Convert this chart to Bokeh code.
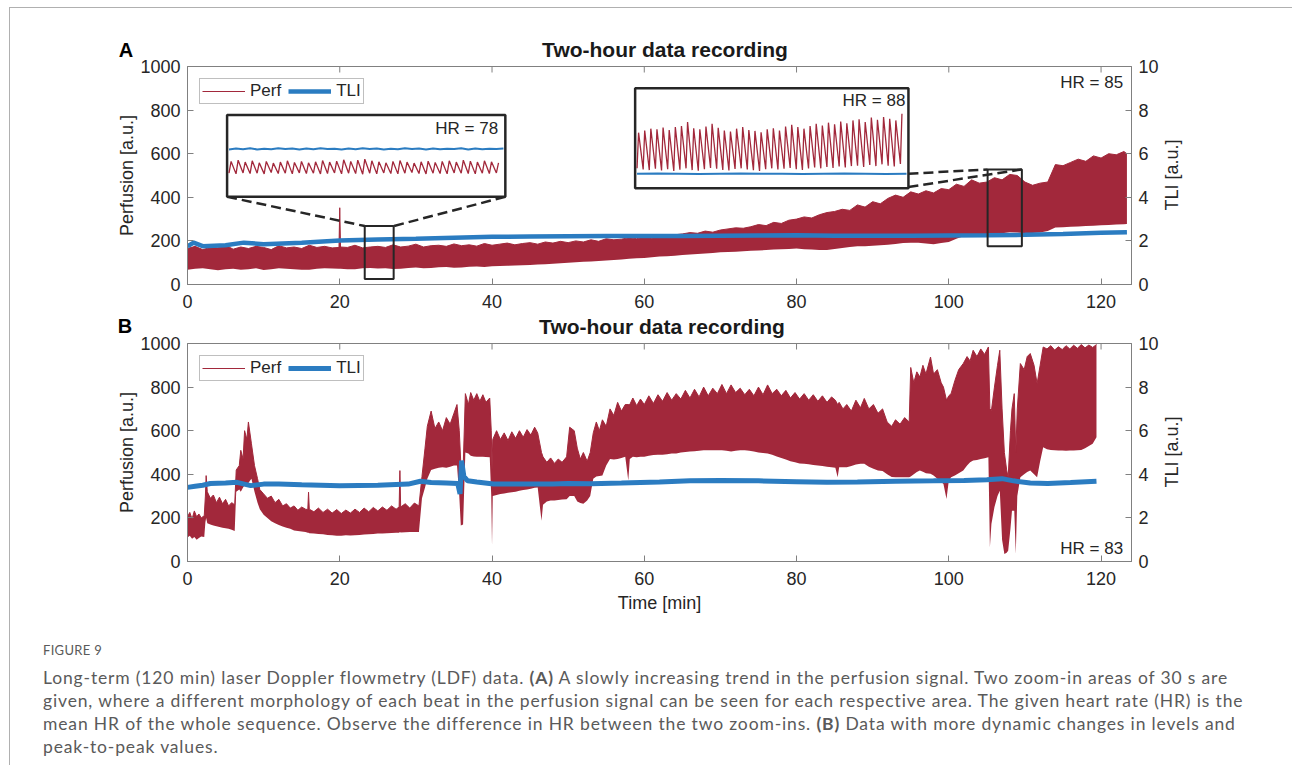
import math
from bokeh.plotting import figure
from bokeh.models import Range1d, LinearAxis, Label, Legend, LegendItem, Div, FixedTicker
from bokeh.layouts import column
from bokeh.embed import file_html
from bokeh.resources import INLINE

# ---------------- data ----------------
X_TICKS = [0, 20, 40, 60, 80, 100, 120]
Y_TICKS = [0, 200, 400, 600, 800, 1000]
TLI_TICKS = [0, 2, 4, 6, 8, 10]

# Panel A: perfusion envelope (time in min)
tA = [0, 1, 2, 3, 4, 5, 6, 7, 8, 9, 10, 11, 12, 13, 14, 15, 16, 17, 18, 19, 19.9, 20.0, 20.1,
      21, 22, 23, 24, 25, 26, 27, 28, 29, 30, 31, 32, 33, 34, 35, 36, 37, 38, 39, 40,
      41, 42, 43, 44, 45, 46, 47, 48, 49, 50, 51, 52, 53, 54, 55, 56, 57, 58, 59, 60,
      61, 62, 63, 64, 65, 66, 67, 68, 69, 70, 71, 72, 73, 74, 75, 76, 77, 78, 79, 80,
      81, 82, 83, 84, 85, 86, 87, 88, 89, 90, 91, 92, 93, 94, 95, 96, 97, 98, 99, 100,
      101, 102, 103, 104, 105, 106, 107, 108, 109, 110, 111, 112, 113, 114, 115, 116, 117, 118, 119, 120,
      121, 122, 123, 123.4]
perfA_hi = [165, 175, 160, 170, 168, 180, 162, 172, 165, 175, 170, 160, 178, 168, 172, 165, 180, 170, 175, 168, 170, 352, 172,
            170, 180, 168, 172, 175, 170, 182, 172, 176, 185, 172, 178, 180, 175, 186, 178, 182, 176, 188, 180,
            185, 190, 182, 188, 192, 185, 195, 190, 198, 192, 200, 195, 205, 198, 210, 205, 208, 215, 210, 218,
            212, 225, 220, 228, 232, 238, 235, 245, 240, 250, 255, 260, 258, 265, 275, 270, 285, 280, 295, 300,
            310, 305, 320, 330, 335, 345, 340, 365, 355, 380, 370, 395, 410, 400, 425, 415, 430, 420, 440, 435,
            460, 450, 480, 465, 470, 490, 480, 505, 500, 470, 455, 465, 470, 550, 545, 560, 575, 565, 590, 580,
            600, 595, 610, 600]
perfA_lo = [68, 72, 75, 70, 65, 70, 72, 68, 70, 74, 66, 70, 74, 72, 70, 68, 68, 72, 75, 73, 72, 72, 72,
            70, 70, 74, 76, 73, 74, 71, 72, 76, 78, 75, 76, 79, 80, 77, 78, 81, 82, 80, 84,
            85, 86, 87, 88, 90, 92, 93, 95, 98, 100, 102, 104, 106, 108, 110, 112, 115, 118, 120, 122,
            125, 128, 130, 132, 135, 138, 140, 142, 145, 148, 149, 150, 153, 155, 156, 158, 160, 162, 163, 165,
            162, 160, 158, 158, 163, 168, 172, 175, 176, 178, 180, 182, 186, 190, 191, 192, 188, 185, 190, 195,
            210, 222, 224, 225, 228, 230, 235, 240, 238, 235, 236, 238, 245, 262, 263, 265, 266, 268, 270, 272,
            273, 275, 276, 277]

# Panel A: TLI
tA_tli = [0, 0.8, 2, 5, 7.4, 10, 15, 20, 25, 30, 35, 40, 45, 50, 55, 60, 65, 70, 75, 80, 85, 90, 95, 100, 105, 110, 115, 120, 123.4]
tliA = [1.75, 1.92, 1.76, 1.80, 1.92, 1.85, 1.92, 2.02, 2.06, 2.10, 2.15, 2.19, 2.20, 2.21, 2.22, 2.22, 2.23, 2.24, 2.25, 2.26,
        2.24, 2.24, 2.24, 2.25, 2.26, 2.28, 2.32, 2.37, 2.40]

# Panel B: perfusion envelope
tB = [0.0, 0.3, 0.6, 0.9, 1.2, 1.5, 1.8, 2.2, 2.35, 2.45, 2.6, 3.0, 3.4, 3.8, 4.2, 4.6, 5.0, 5.4, 5.8, 6.2,
      6.4, 6.8, 7.0, 7.3, 7.5, 7.8, 8.0, 8.2, 8.4, 8.8, 9.2, 9.5, 10.0, 10.5, 11.0, 11.5, 12.0, 12.5, 13.0, 13.5,
      14.0, 14.5, 15.0, 15.5, 15.8, 15.9, 16.0, 16.6, 17.2, 17.8, 18.4, 19.0, 19.6, 20.2, 20.8, 21.4, 22.0, 22.6, 23.2, 23.8,
      24.4, 25.0, 25.6, 26.2, 26.8, 27.4, 27.8, 27.9, 28.0, 28.6, 29.2, 29.8, 30.4, 30.8, 31.2, 31.5, 32.0, 32.5, 33.0, 33.5,
      34.0, 34.5, 35.0, 35.4, 35.7, 35.9, 36.2, 36.5, 36.9, 37.2, 37.6, 38.0, 38.4, 38.8, 39.2, 39.7, 39.9, 40.0, 40.1, 40.6,
      41.1, 41.6, 42.1, 42.6, 43.1, 43.6, 44.1, 44.6, 45.1, 45.6, 46.0, 46.5, 46.7, 47.2, 47.7, 48.2, 48.7, 49.2, 49.8, 50.2,
      50.8, 51.2, 51.6, 52.0, 52.5, 52.9, 53.3, 53.7, 54.1, 54.5, 55.0, 55.5, 56.0, 56.5, 57.0, 57.5, 57.9, 58.1, 58.5, 59.0,
      59.5, 60.0, 60.6, 61.2, 61.8, 62.4, 63.0, 63.6, 64.2, 64.8, 65.4, 66.0, 66.6, 67.2, 67.8, 68.4, 69.0, 69.6, 70.2, 70.8,
      71.4, 72.0, 72.6, 73.2, 73.8, 74.4, 75.0, 75.6, 76.2, 76.8, 77.4, 78.0, 78.6, 79.2, 79.8, 80.4, 81.0, 81.6, 82.2, 82.8,
      83.4, 84.0, 84.6, 85.1, 85.4, 85.6, 86.1, 86.6, 87.2, 87.8, 88.4, 88.9, 89.5, 90.1, 90.7, 91.3, 91.9, 92.5, 93.0, 93.6,
      94.2, 94.8, 95.0, 95.4, 95.8, 96.2, 96.6, 97.0, 97.6, 98.0, 98.5, 99.0, 99.3, 99.7, 100.0, 100.3, 100.8, 101.3, 101.9, 102.4,
      102.8, 103.2, 103.7, 104.2, 104.7, 105.2, 105.4, 105.6, 106.0, 106.4, 106.7, 107.0, 107.3, 107.6, 107.8, 108.1, 108.3, 108.6, 108.8, 109.0,
      109.4, 109.9, 110.3, 110.7, 111.2, 111.6, 112.0, 112.4, 112.9, 113.4, 113.9, 114.4, 114.9, 115.4, 115.9, 116.4, 116.9, 117.4, 117.9, 118.4,
      118.9, 119.4]
perfB_hi = [205, 225, 195, 232, 205, 218, 200, 210, 300, 394, 320, 290, 305, 270, 295, 265, 285, 255, 270, 260,
            420, 440, 510, 470, 600, 560, 640, 590, 540, 440, 380, 330, 310, 290, 300, 270, 285, 255, 265, 245,
            255, 235, 250, 240, 238, 318, 240, 228, 245, 225, 240, 222, 238, 220, 236, 222, 240, 225, 245, 228,
            248, 232, 250, 235, 255, 240, 250, 417, 250, 265, 245, 268, 255, 390, 520, 620, 690, 610, 640, 600,
            660, 630, 680, 720, 600, 450, 420, 770, 720, 775, 740, 770, 735, 765, 730, 750, 600, 420, 560, 600,
            560, 590, 555, 595, 565, 600, 570, 605, 580, 616, 590, 500, 480, 455, 475, 450, 470, 455, 480, 616,
            600, 520, 470, 500, 460, 500, 590, 640, 600, 650, 620, 700, 670, 730, 690, 720, 720, 720, 750, 715,
            745, 720, 760, 725, 765, 735, 775, 740, 770, 745, 785, 750, 790, 755, 800, 760, 795, 770, 812, 770,
            810, 775, 795, 765, 790, 760, 800, 765, 810, 770, 790, 760, 785, 750, 775, 745, 770, 740, 765, 735,
            760, 730, 755, 740, 720, 730, 700, 720, 690, 740, 705, 748, 700, 720, 680, 700, 640, 620, 650, 630,
            660, 640, 890, 820, 870, 846, 900, 860, 938, 860, 880, 820, 800, 740, 760, 770, 830, 880, 908, 940,
            920, 969, 940, 975, 950, 984, 700, 693, 800, 900, 969, 700, 500, 420, 386, 600, 700, 770, 500, 700,
            908, 880, 940, 954, 900, 816, 900, 984, 975, 990, 970, 985, 972, 990, 975, 992, 978, 995, 980, 993,
            982, 995]
perfB_lo = [110, 118, 104, 112, 100, 108, 115, 112, 180, 200, 175, 170, 165, 162, 158, 155, 152, 150, 146, 140,
            320, 330, 320, 340, 350, 345, 360, 370, 380, 320, 270, 240, 215, 200, 185, 175, 168, 160, 155, 150,
            142, 140, 138, 135, 132, 132, 130, 128, 126, 125, 122, 120, 118, 118, 120, 119, 120, 122, 124, 125,
            126, 128, 129, 130, 131, 132, 132, 135, 133, 134, 135, 135, 135, 290, 340, 380, 420, 425, 430, 432,
            430, 435, 440, 440, 300, 165, 170, 500, 495, 485, 482, 480, 480, 480, 479, 478, 300, 72, 300, 305,
            310, 312, 315, 318, 320, 325, 328, 330, 334, 338, 340, 187, 260, 275, 280, 280, 282, 284, 285, 300,
            300, 275, 268, 265, 280, 300, 380, 390, 392, 395, 440, 470, 468, 470, 475, 480, 371, 470, 480, 478,
            480, 480, 485, 488, 490, 490, 492, 495, 495, 500, 502, 505, 506, 508, 510, 510, 510, 510, 510, 508,
            505, 508, 510, 510, 508, 505, 500, 498, 495, 490, 482, 475, 468, 460, 455, 450, 448, 446, 443, 440,
            438, 435, 432, 430, 386, 432, 432, 432, 438, 445, 448, 448, 435, 425, 418, 415, 400, 388, 386, 386,
            386, 386, 390, 400, 410, 417, 412, 405, 402, 395, 380, 365, 356, 287, 370, 386, 395, 405, 417, 440,
            455, 463, 466, 470, 474, 478, 65, 172, 250, 300, 325, 100, 34, 40, 49, 150, 233, 233, 34, 300,
            386, 400, 410, 417, 400, 386, 460, 524, 515, 512, 510, 509, 509, 508, 509, 509, 510, 512, 520, 530,
            540, 570]

# Panel B: TLI
tB_tli = [0, 1, 2, 3, 5, 6.5, 8.3, 10, 12, 15, 20, 25, 29, 30.6, 32, 34, 35.5, 35.8, 36.0, 36.3, 36.8, 38, 40.2, 42, 45,
          48, 50, 53, 57, 62, 66, 70, 75, 80, 84, 88, 93, 98, 102, 105, 107, 108.5, 110.7, 113, 116, 119.4]
tliB = [3.40, 3.45, 3.50, 3.58, 3.60, 3.63, 3.48, 3.55, 3.56, 3.52, 3.48, 3.50, 3.55, 3.68, 3.62, 3.60, 3.58, 3.10, 4.63,
        3.90, 3.70, 3.65, 3.56, 3.55, 3.56, 3.55, 3.58, 3.57, 3.60, 3.65, 3.70, 3.72, 3.70, 3.66, 3.63, 3.65, 3.68, 3.70,
        3.72, 3.75, 3.80, 3.70, 3.60, 3.58, 3.62, 3.68]

# Zoom-in 1 (HR = 78): beat peaks / troughs of perfusion, TLI samples
z1_peaks = [108, 112, 106, 110, 104, 108, 103, 106, 110, 105, 108, 104, 107, 111, 106, 109, 113, 108, 112, 115,
            110, 107, 104, 108, 111, 106, 103, 107, 109, 105, 108, 110, 106, 112, 109, 106, 110, 107, 104]
z1_troughs = [72, 70, 73, 71, 72, 70, 74, 71, 72, 70, 73, 71, 72, 70, 71, 73, 70, 72, 71, 69,
              72, 70, 73, 71, 70, 72, 74, 71, 70, 72, 71, 70, 73, 72, 71, 70, 72, 71, 73]
z1_tli = [2.03, 2.07, 2.04, 2.08, 2.03, 2.06, 2.04, 2.08, 2.05, 2.07, 2.03, 2.07, 2.04, 2.08, 2.05, 2.06, 2.03, 2.07,
          2.04, 2.08, 2.05, 2.07, 2.03, 2.06, 2.04, 2.08, 2.05, 2.07, 2.03, 2.07, 2.04, 2.06, 2.05, 2.08, 2.03, 2.07,
          2.04, 2.06, 2.05, 2.07]

# Zoom-in 2 (HR = 88)
z2_peaks = [400, 410, 418, 415, 423, 412, 425, 430, 448, 420, 415, 428, 440, 422, 410, 405, 418, 425, 412, 408, 402, 415,
            420, 410, 428, 435, 425, 418, 430, 440, 432, 445, 438, 450, 442, 455, 460, 448, 468, 458, 470, 462, 455, 485]
z2_troughs = [240, 235, 232, 238, 230, 236, 228, 234, 240, 232, 229, 236, 242, 238, 233, 230, 237, 240, 235, 232, 228, 236,
              240, 235, 238, 242, 236, 233, 239, 244, 240, 246, 242, 248, 244, 250, 252, 246, 255, 250, 258, 252, 248, 260]
z2_tli = [2.27, 2.28, 2.27, 2.26, 2.27, 2.28, 2.27, 2.27, 2.26, 2.27, 2.28, 2.27, 2.26, 2.27]

TITLE = "Two-hour data recording"
RIGHT_LABEL = "TLI [a.u.]"
CAPTION_HEAD = "FIGURE 9"
CAPTION_LINES = [
    "Long-term (120 min) laser Doppler flowmetry (LDF) data. <b>(A)</b> A slowly increasing trend in the perfusion signal. Two zoom-in areas of 30 s are",
    "given, where a different morphology of each beat in the perfusion signal can be seen for each respective area. The given heart rate (HR) is the",
    "mean HR of the whole sequence. Observe the difference in HR between the two zoom-ins. <b>(B)</b> Data with more dynamic changes in levels and",
    "peak-to-peak values.",
]

# ---------------- style ----------------
RED = "#A2283B"
BLUE = "#2B7CC1"
FONT = "Liberation Sans"
TXT = "#262626"
AX = "#808080"
DARK = "#262626"
XMAX = 124.0
W = 1269


def style_axis(ax, ticks, standoff=7):
    ax.ticker = FixedTicker(ticks=ticks)
    ax.major_tick_in = 6
    ax.major_tick_out = 0
    ax.minor_tick_in = 0
    ax.minor_tick_out = 0
    ax.axis_line_color = AX
    ax.major_tick_line_color = AX
    ax.major_label_standoff = standoff
    ax.major_label_text_font = FONT
    ax.major_label_text_font_size = "18px"
    ax.major_label_text_color = TXT
    ax.axis_label_text_font = FONT
    ax.axis_label_text_font_size = "18px"
    ax.axis_label_text_font_style = "normal"
    ax.axis_label_text_color = TXT


def make_panel(h, top, bottom, xlabel):
    p = figure(width=W, height=h, x_range=Range1d(0, XMAX), y_range=Range1d(0, 1000),
               output_backend="svg", toolbar_location=None,
               min_border_left=177, min_border_right=148, min_border_top=top, min_border_bottom=bottom)
    p.extra_y_ranges = {"tli": Range1d(0, 10)}
    p.xgrid.visible = False
    p.ygrid.visible = False
    p.outline_line_color = AX
    p.background_fill_color = "white"
    p.border_fill_color = None
    style_axis(p.xaxis[0], X_TICKS, standoff=10)
    style_axis(p.yaxis[0], Y_TICKS)
    p.yaxis[0].axis_label = "Perfusion [a.u.]"
    p.yaxis[0].axis_label_standoff = 0
    if xlabel:
        p.xaxis[0].axis_label = xlabel
        p.xaxis[0].axis_label_standoff = 5
    right = LinearAxis(y_range_name="tli")
    style_axis(right, TLI_TICKS)
    p.add_layout(right, "right")
    # inward tick marks on the top edge of the box
    p.ray(x=X_TICKS, y=[1000] * len(X_TICKS), length=6, length_units="screen", angle=-math.pi / 2,
          line_color=AX, line_width=1)
    return p


def make_header(h, letter, lx, ly, tx, ty, ry):
    span = "position:absolute; line-height:24px; white-space:nowrap; font-family:'Liberation Sans';"
    html = ('<div style="position:relative; width:%dpx; height:%dpx;">' % (W, h)
            + '<span style="%s font-weight:bold; left:%dpx; top:%dpx; width:30px; text-align:center; font-size:20px; color:#000;">%s</span>'
            % (span, lx - 15, ly - 12, letter)
            + '<span style="%s font-weight:bold; left:%dpx; top:%dpx; width:400px; text-align:center; font-size:21px; color:#1a1a1a;">%s</span>'
            % (span, tx - 200, ty - 12, TITLE)
            # right-hand axis title (reads bottom-to-top), sits in the transparent right border of the panel below
            + '<span style="%s left:%dpx; top:%dpx; width:120px; text-align:center; font-size:18px; color:%s; transform:rotate(-90deg); transform-origin:50%% 50%%;">%s</span>'
            % (span, 1162 - 60, ry - 12, TXT, RIGHT_LABEL)
            + '</div>')
    return Div(text=html, width=W, height=h, margin=(0, 0, 0, 0), styles={"overflow": "visible"})


def add_legend(p, r_perf, r_tli):
    lg = Legend(items=[LegendItem(label="Perf", renderers=[r_perf]), LegendItem(label="TLI", renderers=[r_tli])],
                location="top_left", orientation="horizontal", margin=12, padding=2, spacing=7,
                label_standoff=5, glyph_width=43, glyph_height=16, label_height=16,
                border_line_color=AX, border_line_width=1, background_fill_color="white", background_fill_alpha=1,
                label_text_font=FONT, label_text_font_size="17px", label_text_color=TXT)
    p.add_layout(lg)


def inset(p, peaks, troughs, tli, box, plim, tlim, rise):
    t0, t1, v0, v1 = box
    pad = 0.25
    n = len(peaks)
    fx, fy = [], []
    for i in range(n):
        fx += [i / n, (i + rise) / n]
        fy += [troughs[i], peaks[i]]
    xs = [t0 + pad + f * (t1 - t0 - 2 * pad) for f in fx]
    ys = [v0 + (y - plim[0]) / (plim[1] - plim[0]) * (v1 - v0) for y in fy]
    m = len(tli)
    bx = [t0 + pad + i / (m - 1) * (t1 - t0 - 2 * pad) for i in range(m)]
    by = [v0 + (y - tlim[0]) / (tlim[1] - tlim[0]) * (v1 - v0) for y in tli]
    p.quad(left=[t0], right=[t1], bottom=[v0], top=[v1], fill_color="white", line_color=DARK, line_width=2.5)
    p.line(bx, by, line_color=BLUE, line_width=2)
    return p.line(xs, ys, line_color=RED, line_width=1.3)


# ---------------- panel A ----------------
hdrA = make_header(46, "A", 116, 42, 655, 42, 167)
pA = make_panel(261, 12, 31, None)
pA.varea(x=tA, y1=perfA_lo, y2=perfA_hi, fill_color=RED)
rA_perf = pA.line(tA, perfA_hi, line_color=RED, line_width=1)
rA_tli = pA.line(tA_tli, tliA, line_color=BLUE, line_width=4.5, y_range_name="tli")

pA.quad(left=[23.28], right=[27.08], bottom=[25.7], top=[268], fill_alpha=0, line_color=DARK, line_width=2)
pA.quad(left=[105.1], right=[109.6], bottom=[176], top=[528], fill_alpha=0, line_color=DARK, line_width=2)
pA.line([5.2, 23.28], [402.6, 268], line_color=DARK, line_width=2.5, line_dash="10 5")
pA.line([41.75, 27.08], [402.6, 268], line_color=DARK, line_width=2.5, line_dash="10 5")
pA.line([94.7, 105.1], [508, 528], line_color=DARK, line_width=2.5, line_dash="10 5")
pA.line([94.7, 109.6], [447, 528], line_color=DARK, line_width=2.5, line_dash="10 5")

inset(pA, z1_peaks, z1_troughs, z1_tli, (5.2, 41.75, 402.6, 777), (0, 250), (0, 3.5), 0.3)
inset(pA, z2_peaks, z2_troughs, z2_tli, (58.8, 94.7, 441, 900.7), (150, 600), (1.6, 6.2), 0.25)

for (x, y, t) in [(40.8, 714, "HR = 78"), (94.3, 842, "HR = 88"), (122.9, 926, "HR = 85")]:
    pA.add_layout(Label(x=x, y=y, text=t, text_align="right", text_baseline="middle",
                        text_font=FONT, text_font_size="17px", text_color=TXT))
add_legend(pA, rA_perf, rA_tli)

# ---------------- panel B ----------------
hdrB = make_header(16, "B", 115, 11, 652, 12, 137)
pB = make_panel(294, 12, 64, "Time [min]")
pB.varea(x=tB, y1=perfB_lo, y2=perfB_hi, fill_color=RED)
rB_perf = pB.line(tB, perfB_hi, line_color=RED, line_width=1)
rB_tli = pB.line(tB_tli, tliB, line_color=BLUE, line_width=5, y_range_name="tli")
pB.add_layout(Label(x=122.9, y=60, text="HR = 83", text_align="right", text_baseline="middle",
                    text_font=FONT, text_font_size="17px", text_color=TXT))
add_legend(pB, rB_perf, rB_tli)

# ---------------- caption ----------------
html = ('<div style="font-family: Lato, \'Open Sans\', sans-serif; color:#5a5a5a; padding-left:33px; padding-top:17px;">'
        '<div style="font-size:13px; letter-spacing:0.3px; line-height:16px; margin-bottom:8px;">' + CAPTION_HEAD + '</div>'
        '<div style="font-size:17.5px; letter-spacing:0.85px; line-height:23px; white-space:nowrap;">'
        + "<br>".join(CAPTION_LINES) + '</div></div>')
cap = Div(text=html, width=1282, height=140, margin=(0, 0, 0, 0))

layout = column(hdrA, pA, hdrB, pB, cap, margin=(7, 0, 0, 9),
                styles={"border-top": "1px solid #b0b0b0", "border-left": "1px solid #b0b0b0"})
open("out.html", "w").write(file_html(layout, INLINE))
